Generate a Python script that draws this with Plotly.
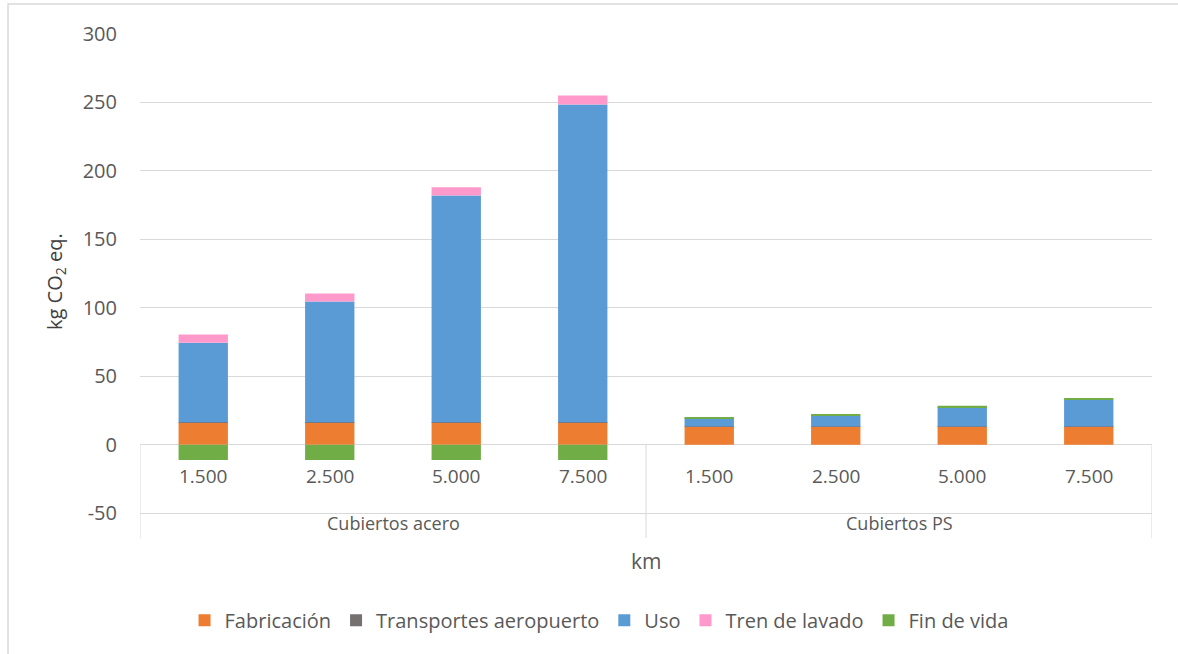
import numpy as np
import plotly.graph_objects as go

# Distances (km) per cutlery type
groups = ["Cubiertos acero", "Cubiertos PS"]
km_labels = ["1.500", "2.500", "5.000", "7.500"]
sub_labels = km_labels + km_labels

# Life-cycle stages, kg CO2 eq.
fabricacion = [16.3, 16.3, 16.3, 16.3, 13.4, 13.4, 13.4, 13.4]
transportes = [0.3, 0.3, 0.3, 0.3, 0.1, 0.1, 0.1, 0.1]
uso = [58.0, 88.0, 165.5, 232.0, 6.1, 7.8, 14.1, 19.4]
tren_lavado = [6.0, 6.0, 6.0, 6.5, 0.0, 0.0, 0.0, 0.0]
fin_vida = [-11.0, -11.0, -11.0, -11.0, 0.7, 0.8, 1.0, 1.2]

y_ticks = [-50, 0, 50, 100, 150, 200, 250, 300]

series = [
    ("Fabricación", fabricacion, "#ED7D31"),
    ("Transportes aeropuerto", transportes, "#767171"),
    ("Uso", uso, "#5B9BD5"),
    ("Tren de lavado", tren_lavado, "#FF99CC"),
    ("Fin de vida", fin_vida, "#70AD47"),
]

x_pos = np.arange(len(sub_labels))
FONT = "Open Sans, Roboto, Arial"
TXT = "#595959"

fig = go.Figure()
for name, vals, color in series:
    fig.add_trace(go.Bar(
        x=x_pos, y=vals, name=name, width=0.39,
        marker=dict(color=color, line=dict(width=0)),
    ))

shapes = []
# category box separators below the zero line
n = len(sub_labels)
per_group = len(km_labels)
for b in [-0.5, per_group - 0.5, n - 0.5]:
    shapes.append(dict(type="line", xref="x", yref="y", x0=b, x1=b, y0=0, y1=-68,
                       line=dict(color="#D9D9D9", width=1)))
# outer chart border
shapes.append(dict(type="rect", xref="paper", yref="paper",
                   x0=-0.1304, x1=1.05, y0=1.0595, y1=-0.30,
                   line=dict(color="#D9D9D9", width=1.5), layer="below"))

annotations = []
for i, lab in enumerate(sub_labels):
    annotations.append(dict(x=x_pos[i], y=-22.5, xref="x", yref="y", text=lab,
                            showarrow=False, font=dict(size=19, color=TXT, family=FONT)))
for g, name in enumerate(groups):
    cx = g * per_group + (per_group - 1) / 2
    annotations.append(dict(x=cx, y=-57, xref="x", yref="y", text=name,
                            showarrow=False, font=dict(size=18, color=TXT, family=FONT)))
annotations.append(dict(x=(n - 1) / 2, y=-0.045, xref="x", yref="paper", text="km",
                        showarrow=False, yanchor="middle",
                        font=dict(size=21, color=TXT, family=FONT)))
annotations.append(dict(x=-0.083, y=0.508, xref="paper", yref="paper",
                        xanchor="center", yanchor="middle",
                        text="kg CO<sub>2</sub> eq.", textangle=-90, showarrow=False,
                        font=dict(size=20, color="#404040", family=FONT)))

fig.update_layout(
    width=1178, height=654,
    margin=dict(l=140, r=26, t=34, b=116),
    plot_bgcolor="white", paper_bgcolor="white",
    barmode="relative",
    font=dict(family=FONT, color=TXT),
    showlegend=True,
    legend=dict(orientation="h", x=0.4536, xanchor="center", y=-0.163, yanchor="middle",
                font=dict(size=20, color=TXT, family=FONT), traceorder="normal",
                itemwidth=30),
    xaxis=dict(range=[-0.5, n - 0.5], showticklabels=False, showgrid=False,
               zeroline=False, showline=False, ticks=""),
    yaxis=dict(range=[-68, 300], tickvals=y_ticks, ticktext=[str(v) for v in y_ticks],
               showgrid=True, gridcolor="#D9D9D9", gridwidth=1,
               zeroline=True, zerolinecolor="#D9D9D9", zerolinewidth=1,
               showline=False, ticks="", ticklabelstandoff=22,
               tickfont=dict(size=20, color=TXT, family=FONT)),
    shapes=shapes,
    annotations=annotations,
)

fig.write_html("out.html")
